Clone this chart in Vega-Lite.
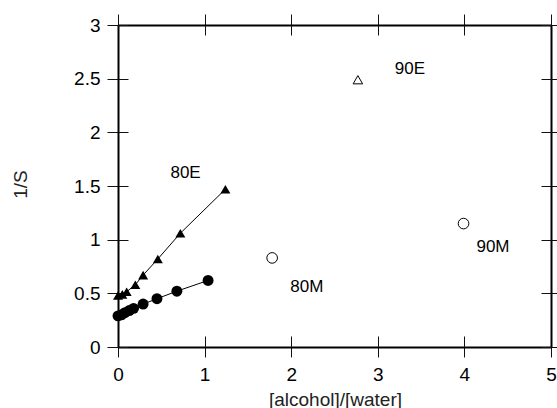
{
  "$schema": "https://vega.github.io/schema/vega-lite/v6.json",
  "width": 433,
  "height": 322,
  "autosize": {"type": "none"},
  "padding": {"left": 118, "top": 25, "right": 6, "bottom": 61},
  "background": "white",
  "config": {
    "view": {"stroke": null},
    "axis": {
      "grid": false,
      "domainColor": "black",
      "tickColor": "#111",
      "tickWidth": 1,
      "labelFlush": false,
      "labelOverlap": false,
      "labelFont": "Liberation Sans",
      "titleFont": "Liberation Sans",
      "labelFontSize": 19,
      "labelColor": "black",
      "titleFontSize": 19,
      "titleFontWeight": "normal",
      "titleColor": "#222"
    }
  },
  "datasets": {
    "pts": [
      {"ratio": 0.0, "invS": 0.48, "series": "ethanol"},
      {"ratio": 0.05, "invS": 0.49, "series": "ethanol"},
      {"ratio": 0.1, "invS": 0.515, "series": "ethanol"},
      {"ratio": 0.2, "invS": 0.58, "series": "ethanol"},
      {"ratio": 0.29, "invS": 0.67, "series": "ethanol"},
      {"ratio": 0.46, "invS": 0.82, "series": "ethanol"},
      {"ratio": 0.72, "invS": 1.06, "series": "ethanol"},
      {"ratio": 1.24, "invS": 1.47, "series": "ethanol"},
      {"ratio": 0.0, "invS": 0.29, "series": "methanol"},
      {"ratio": 0.04, "invS": 0.3, "series": "methanol"},
      {"ratio": 0.08, "invS": 0.32, "series": "methanol"},
      {"ratio": 0.13, "invS": 0.34, "series": "methanol"},
      {"ratio": 0.18, "invS": 0.36, "series": "methanol"},
      {"ratio": 0.29, "invS": 0.4, "series": "methanol"},
      {"ratio": 0.45, "invS": 0.45, "series": "methanol"},
      {"ratio": 0.68, "invS": 0.52, "series": "methanol"},
      {"ratio": 1.04, "invS": 0.62, "series": "methanol"},
      {"ratio": 2.77, "invS": 2.49, "series": "90E"},
      {"ratio": 1.78, "invS": 0.83, "series": "80M"},
      {"ratio": 3.99, "invS": 1.15, "series": "90M"}
    ],
    "labels": [
      {"ratio": 0.78, "invS": 1.62, "label": "80E"},
      {"ratio": 3.37, "invS": 2.59, "label": "90E"},
      {"ratio": 2.18, "invS": 0.56, "label": "80M"},
      {"ratio": 4.33, "invS": 0.93, "label": "90M"}
    ]
  },
  "data": {"name": "pts"},
  "resolve": {"axis": {"x": "independent", "y": "independent"}},
  "layer": [
    {
      "transform": [{"filter": "datum.series === 'ethanol' || datum.series === 'methanol'"}],
      "mark": {"type": "line", "color": "black", "strokeWidth": 1},
      "encoding": {
        "x": {"field": "ratio", "type": "quantitative", "scale": {"domain": [0, 5], "nice": false},
          "axis": {"orient": "bottom", "values": [0, 1, 2, 3, 4, 5], "tickSize": 10, "labelPadding": 8, "domainWidth": 2,
            "title": "[alcohol]/[water]", "titleX": 217, "titleY": 62, "titleBaseline": "bottom", "titleAnchor": "middle", "titleAlign": "center"}},
        "y": {"field": "invS", "type": "quantitative", "scale": {"domain": [0, 3], "nice": false},
          "axis": {"orient": "left", "values": [0, 0.5, 1, 1.5, 2, 2.5, 3], "format": "~g", "tickSize": 11, "labelPadding": 7, "domainWidth": 2,
            "title": "1/S", "titleX": -98, "titleY": 159, "titleAngle": -90, "titleBaseline": "middle", "titleAlign": "center"}},
        "detail": {"field": "series"}
      }
    },
    {
      "transform": [{"filter": "datum.series === 'ethanol'"}],
      "mark": {"type": "point", "shape": "triangle-up", "filled": true, "color": "black", "opacity": 1, "size": 100},
      "encoding": {
        "x": {"field": "ratio", "type": "quantitative", "scale": {"domain": [0, 5], "nice": false},
          "axis": {"orient": "bottom", "values": [0, 1, 2, 3, 4, 5], "offset": -11, "tickSize": 11, "labels": false, "domain": false, "title": null}},
        "y": {"field": "invS", "type": "quantitative", "scale": {"domain": [0, 3], "nice": false},
          "axis": {"orient": "left", "values": [0, 0.5, 1, 1.5, 2, 2.5, 3], "offset": -10, "tickSize": 10, "labels": false, "domain": false, "title": null}}
      }
    },
    {
      "transform": [{"filter": "datum.series === 'methanol'"}],
      "mark": {"type": "point", "shape": "circle", "filled": true, "color": "black", "opacity": 1, "size": 120},
      "encoding": {
        "x": {"field": "ratio", "type": "quantitative", "scale": {"domain": [0, 5], "nice": false},
          "axis": {"orient": "top", "values": [0, 1, 2, 3, 4, 5], "tickSize": 11, "labels": false, "domainWidth": 2, "title": null}},
        "y": {"field": "invS", "type": "quantitative", "scale": {"domain": [0, 3], "nice": false},
          "axis": {"orient": "right", "values": [0, 0.5, 1, 1.5, 2, 2.5, 3], "tickSize": 6, "labels": false, "domainWidth": 2, "title": null}}
      }
    },
    {
      "transform": [{"filter": "datum.series === '90E'"}],
      "mark": {"type": "point", "shape": "triangle-up", "filled": false, "color": "black", "opacity": 1, "strokeWidth": 1, "size": 90},
      "encoding": {
        "x": {"field": "ratio", "type": "quantitative", "scale": {"domain": [0, 5], "nice": false},
          "axis": {"orient": "top", "values": [0, 1, 2, 3, 4, 5], "offset": -10, "tickSize": 10, "labels": false, "domain": false, "title": null}},
        "y": {"field": "invS", "type": "quantitative", "scale": {"domain": [0, 3], "nice": false},
          "axis": {"orient": "right", "values": [0, 0.5, 1, 1.5, 2, 2.5, 3], "offset": -10, "tickSize": 10, "labels": false, "domain": false, "title": null}}
      }
    },
    {
      "transform": [{"filter": "datum.series === '80M' || datum.series === '90M'"}],
      "mark": {"type": "point", "shape": "circle", "filled": false, "color": "black", "opacity": 1, "strokeWidth": 1, "size": 113},
      "encoding": {
        "x": {"field": "ratio", "type": "quantitative", "scale": {"domain": [0, 5], "nice": false}, "axis": null},
        "y": {"field": "invS", "type": "quantitative", "scale": {"domain": [0, 3], "nice": false}, "axis": null}
      }
    },
    {
      "data": {"name": "labels"},
      "mark": {"type": "text", "font": "Liberation Sans", "fontSize": 17, "color": "black", "align": "center", "baseline": "middle"},
      "encoding": {
        "x": {"field": "ratio", "type": "quantitative", "scale": {"domain": [0, 5], "nice": false}, "axis": null},
        "y": {"field": "invS", "type": "quantitative", "scale": {"domain": [0, 3], "nice": false}, "axis": null},
        "text": {"field": "label"}
      }
    }
  ]
}
